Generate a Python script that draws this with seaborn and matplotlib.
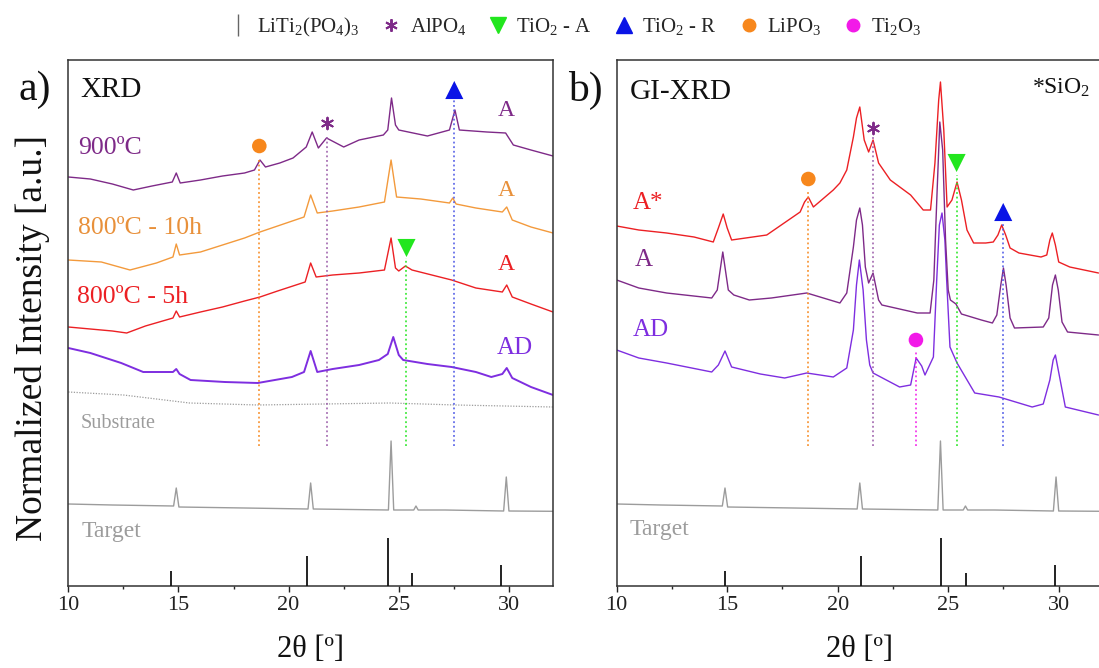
import matplotlib
matplotlib.use("Agg")
import matplotlib.pyplot as plt
from matplotlib.lines import Line2D
from matplotlib.ticker import MultipleLocator
import seaborn as sns

# ---------------- data: 2theta positions and normalized (offset) intensities ----------------
# Panel a) conventional XRD
xrd_900_2theta = [10.0, 11.0, 12.0, 12.95, 13.8, 14.72, 14.9, 15.08, 16.0, 17.0, 18.0, 18.45, 18.7, 18.95,
                  19.6, 20.2, 20.8, 21.07, 21.35, 21.72, 22.5, 23.2, 24.3, 24.5, 24.67, 24.85, 25.0, 26.3,
                  27.3, 27.55, 27.75, 29.0, 29.85, 30.2, 31.0, 32.0]
xrd_900_int = [403, 401, 396, 390, 394, 398, 407, 397, 400, 404, 407, 410, 420, 413,
               417, 422, 433, 448, 432, 442, 433, 440, 445, 450, 482, 455, 450, 444,
               450, 470, 450, 448, 447, 435, 430, 424]

xrd_800_10h_2theta = [10.0, 11.5, 12.8, 14.0, 14.75, 14.9, 15.05, 16.0, 17.0, 18.0, 18.7, 19.5, 20.7, 21.0,
                      21.3, 22.0, 23.2, 24.35, 24.65, 24.9, 26.0, 27.3, 27.45, 27.6, 28.5, 29.7, 29.9,
                      30.15, 31.0, 32.0]
xrd_800_10h_int = [320, 318, 310, 317, 323, 336, 325, 328, 335, 342, 348, 354, 363, 385,
                   367, 369, 373, 378, 420, 383, 381, 377, 382, 376, 372, 368, 373,
                   360, 353, 347]

xrd_800_5h_2theta = [10.0, 11.0, 12.0, 12.65, 13.5, 14.75, 14.9, 15.05, 16.0, 17.0, 18.0, 18.7, 19.5, 20.75,
                     21.0, 21.25, 22.0, 23.2, 24.35, 24.65, 24.85, 25.0, 25.3, 25.6, 26.5, 27.4, 28.5,
                     29.7, 29.9, 30.15, 31.0, 32.0]
xrd_800_5h_int = [253, 251, 249, 247, 254, 262, 269, 263, 268, 273, 279, 283, 289, 298,
                  317, 303, 305, 307, 310, 342, 312, 309, 314, 310, 305, 300, 292,
                  288, 295, 283, 276, 268]

xrd_ad_2theta = [10.0, 11.0, 12.4, 13.4, 14.75, 14.9, 15.05, 15.55, 17.1, 18.6, 20.15, 20.7, 21.0, 21.3,
                 22.0, 23.2, 24.1, 24.5, 24.75, 25.0, 25.2, 26.3, 27.4, 28.5, 29.2, 29.7, 29.9, 30.15,
                 31.0, 32.0]
xrd_ad_int = [232, 227, 217, 208, 208, 211, 206, 200, 198, 197, 203, 208, 229, 208,
              211, 215, 220, 226, 243, 225, 220, 216, 213, 208, 203, 206, 212, 202,
              193, 185]

substrate_2theta = [10.0, 12.5, 15.5, 18.6, 21.6, 24.6, 27.6, 32.0]
substrate_int = [188, 185, 177, 175, 176, 177, 175, 173]

# Target pattern (same measurement shown in both panels)
target_2theta = [10.0, 12.0, 14.78, 14.9, 15.02, 18.0, 20.88, 21.0, 21.12, 24.53, 24.65, 24.77,
                 25.68, 25.78, 25.88, 27.1, 29.76, 29.88, 30.0, 32.0]
target_int = [76, 75, 74, 92, 73, 72, 71, 97, 71, 70, 139, 70,
              70, 74, 70, 70, 69, 103, 69, 68.7]

# LiTi2(PO4)3 reference reflections
ref_2theta_a = [14.65, 20.83, 24.49, 25.61, 29.66]
ref_2theta_b = [14.91, 21.05, 24.69, 25.81, 29.83]
ref_top = [9, 24, 42.5, 7, 15.5]

# Panel b) grazing-incidence XRD
gi_astar_2theta = [10.0, 11.0, 12.26, 13.5, 14.37, 14.6, 14.82, 15.0, 15.2, 16.79, 18.3, 18.5, 18.67, 18.9,
                   19.8, 20.1, 20.41, 20.71, 20.85, 21.0, 21.2, 21.4, 21.6, 21.85, 22.38, 23.3, 23.87,
                   24.2, 24.4, 24.57, 24.65, 24.8, 24.95, 25.17, 25.4, 25.6, 25.85, 26.15, 26.7, 27.04,
                   27.25, 27.42, 27.6, 27.8, 28.2, 29.2, 29.46, 29.6, 29.71, 29.85, 30.0, 30.5, 31.8]
gi_astar_int = [354, 350, 347, 343, 338, 352, 366, 352, 340, 345, 368, 378, 383, 373,
                390, 397, 410, 443, 462, 473, 440, 428, 440, 417, 400, 385, 370,
                370, 417, 480, 498, 450, 373, 380, 398, 380, 350, 337, 337, 338,
                345, 355, 345, 332, 327, 323, 325, 340, 347, 335, 318, 313, 307]

gi_a_2theta = [10.0, 11.0, 12.26, 14.3, 14.55, 14.8, 15.05, 15.3, 16.0, 17.0, 18.6, 20.1, 20.41, 20.71,
               20.85, 21.0, 21.12, 21.25, 21.4, 21.6, 21.85, 22.0, 23.0, 23.6, 24.18, 24.35, 24.5,
               24.62, 24.75, 24.88, 25.0, 25.1, 25.35, 25.6, 26.5, 27.0, 27.2, 27.38, 27.5, 27.62,
               27.8, 28.0, 29.3, 29.55, 29.72, 29.85, 29.98, 30.15, 30.4, 31.8]
gi_a_int = [300, 292, 287, 282, 290, 328, 290, 285, 280, 282, 287, 277, 287, 333,
            360, 372, 355, 313, 297, 307, 280, 275, 270, 267, 267, 300, 390,
            458, 430, 340, 290, 280, 276, 266, 260, 257, 265, 295, 312, 295,
            262, 252, 253, 262, 295, 305, 290, 258, 248, 245]

gi_ad_2theta = [10.0, 11.0, 12.26, 14.3, 14.6, 14.9, 15.2, 16.5, 17.6, 18.6, 19.8, 20.41, 20.71, 20.85,
                20.98, 21.15, 21.3, 21.45, 21.6, 22.2, 22.8, 23.3, 23.55, 23.8, 23.95, 24.33, 24.48,
                24.6, 24.72, 24.85, 24.93, 25.08, 25.4, 26.2, 27.3, 28.8, 29.3, 29.6, 29.75, 29.85,
                29.98, 30.3, 31.8]
gi_ad_int = [230, 222, 217, 208, 215, 229, 213, 206, 202, 207, 203, 212, 250, 295,
             320, 290, 240, 215, 207, 200, 193, 195, 222, 214, 205, 223, 300,
             355, 367, 340, 300, 233, 217, 187, 183, 173, 176, 200, 220, 225,
             210, 173, 165]

# Phase markers: (2theta, marker height, top of guide line)
phase_a = {
    "LiPO3":    ([18.67], [434], [420]),
    "AlPO4":    ([21.72], [457], [443]),
    "TiO2-A":   ([25.35], [332], [322]),
    "TiO2-R":   ([27.52], [490], [480]),
}
phase_b = {
    "LiPO3":    ([18.67], [401], [390]),
    "AlPO4":    ([21.61], [452], [443]),
    "Ti2O3":    ([23.54], [240], [228]),
    "TiO2-A":   ([25.38], [417], [405]),
    "TiO2-R":   ([27.49], [368], [357]),
}
guide_bottom = 134

# ---------------- styling ----------------
sns.set_style("ticks")
plt.rcParams["font.family"] = ["Liberation Serif", "DejaVu Serif"]
plt.rcParams["mathtext.fontset"] = "custom"
plt.rcParams["mathtext.rm"] = "Liberation Serif"
plt.rcParams["mathtext.it"] = "Liberation Serif:italic"
plt.rcParams["mathtext.bf"] = "Liberation Serif:bold"

C_900 = "#7E2A88"
C_10H = "#F39A3C"
C_5H = "#EC2024"
C_AD = "#7E2EE0"
C_GREY = "#9C9C9C"
C_ORANGE = "#F7871C"
C_GREEN = "#22E61E"
C_BLUE = "#0A14E6"
C_MAGENTA = "#F21AE8"
C_AST = "#7E2A88"

marker_style = {
    "LiPO3": dict(marker="o", color=C_ORANGE, s=110, line=C_ORANGE),
    "AlPO4": dict(marker=(6, 2, 0), color=C_AST, s=70, line="#9A5AA8"),
    "Ti2O3": dict(marker="o", color=C_MAGENTA, s=110, line=C_MAGENTA),
    "TiO2-A": dict(marker="v", color=C_GREEN, s=170, line=C_GREEN),
    "TiO2-R": dict(marker="^", color=C_BLUE, s=170, line="#4A55E6"),
}

fig = plt.figure(figsize=(10.99, 6.68), dpi=100)
ax_a = fig.add_axes([68.3 / 1099, 1 - 585.7 / 668, 484.7 / 1099, 525.7 / 668])
ax_b = fig.add_axes([616.7 / 1099, 1 - 585.7 / 668, 486.2 / 1099, 525.7 / 668])


def trace(ax, x, y, color, lw=0.9, ls="-"):
    sns.lineplot(x=x, y=y, ax=ax, color=color, lw=lw, ls=ls, sort=False, estimator=None)


def phases(ax, table):
    for key, (xs, ys, tops) in table.items():
        st = marker_style[key]
        ax.vlines(xs, guide_bottom, tops, colors=st["line"], linestyles=(0, (1.2, 1.8)), lw=1.1, zorder=2)
        kw = dict(edgecolor=st["color"], linewidth=1.4) if key == "AlPO4" else dict(edgecolor="none")
        sns.scatterplot(x=xs, y=ys, ax=ax, marker=st["marker"], color=st["color"], s=st["s"],
                        zorder=5, **kw)


def frame(ax):
    ax.set_xlim(10, 32)
    ax.set_ylim(-5.7, 520)
    ax.xaxis.set_major_locator(MultipleLocator(5))
    ax.xaxis.set_minor_locator(MultipleLocator(2.5))
    ax.set_yticks([])
    ax.tick_params(axis="x", which="major", direction="out", length=4.5, width=1.0,
                   labelsize=16, colors="#222222", pad=3)
    ax.tick_params(axis="x", which="minor", direction="out", length=2.5, width=1.0)
    for sp in ax.spines.values():
        sp.set_visible(True)
        sp.set_color("#333333")
        sp.set_linewidth(1.1)
    ax.set_xlabel("2θ [º]", fontsize=22, labelpad=14, color="#111111")
    ax.set_ylabel("")


# ---------------- panel a ----------------
trace(ax_a, target_2theta, target_int, C_GREY, lw=1.0)
trace(ax_a, substrate_2theta, substrate_int, C_GREY, lw=0.9, ls=(0, (1, 1.2)))
trace(ax_a, xrd_ad_2theta, xrd_ad_int, C_AD, lw=1.4)
trace(ax_a, xrd_800_5h_2theta, xrd_800_5h_int, C_5H, lw=1.0)
trace(ax_a, xrd_800_10h_2theta, xrd_800_10h_int, C_10H, lw=1.0)
trace(ax_a, xrd_900_2theta, xrd_900_int, C_900, lw=1.0)
ax_a.vlines(ref_2theta_a, -5.7, ref_top, colors="#111111", lw=1.3, zorder=3)
phases(ax_a, phase_a)
frame(ax_a)

ax_a.text(10.53, 490, "XRD", fontsize=21, va="center", ha="left", color="#111111")
ax_a.text(10.44, 432, "900ºC", fontsize=18.5, va="center", color=C_900)
ax_a.text(10.44, 352, "800ºC - 10h", fontsize=18.5, va="center", color="#E8903A")
ax_a.text(10.4, 283, "800ºC - 5h", fontsize=18.5, va="center", color=C_5H)
ax_a.text(10.58, 157, "Substrate", fontsize=14.5, va="center", color=C_GREY)
ax_a.text(10.58, 48, "Target", fontsize=17, va="center", color=C_GREY)
ax_a.text(29.9, 470, "A", fontsize=17, ha="center", va="center", color=C_900)
ax_a.text(29.9, 390, "A", fontsize=17, ha="center", va="center", color="#E8903A")
ax_a.text(29.9, 315, "A", fontsize=17, ha="center", va="center", color=C_5H)
ax_a.text(30.27, 232, "AD", fontsize=18, ha="center", va="center", color=C_AD)

# ---------------- panel b ----------------
trace(ax_b, target_2theta, target_int, C_GREY, lw=1.0)
trace(ax_b, gi_ad_2theta, gi_ad_int, C_AD, lw=1.0)
trace(ax_b, gi_a_2theta, gi_a_int, C_900, lw=1.0)
trace(ax_b, gi_astar_2theta, gi_astar_int, C_5H, lw=1.0)
ax_b.vlines(ref_2theta_b, -5.7, ref_top, colors="#111111", lw=1.3, zorder=3)
phases(ax_b, phase_b)
frame(ax_b)

ax_b.text(10.6, 488, "GI-XRD", fontsize=21, va="center", ha="left", color="#111111")
ax_b.text(28.8, 492, r"*SiO$_2$", fontsize=17, va="center", ha="left", color="#111111")
ax_b.text(10.74, 377, "A*", fontsize=18, va="center", color=C_5H)
ax_b.text(10.83, 320, "A", fontsize=18, va="center", color=C_900)
ax_b.text(10.74, 250, "AD", fontsize=18, va="center", color=C_AD)
ax_b.text(10.57, 50, "Target", fontsize=17, va="center", color=C_GREY)

# ---------------- figure-level text ----------------
fig.text(35 / 1099, 1 - 90 / 668, "a)", fontsize=30, ha="center", va="center", color="#111111")
fig.text(585 / 1099, 1 - 90 / 668, "b)", fontsize=30, ha="center", va="center", color="#111111")
fig.text(33 / 1099, 1 - 338 / 668, "Normalized Intensity [a.u.]", fontsize=27, rotation=90,
         ha="center", va="center", color="#111111")

handles = [
    Line2D([], [], ls="None", marker="|", color="#666666", markersize=16, mew=1.0),
    Line2D([], [], ls="None", marker=(6, 2, 0), color=C_AST, markersize=9, mew=1.4),
    Line2D([], [], ls="None", marker="v", color=C_GREEN, markersize=12),
    Line2D([], [], ls="None", marker="^", color=C_BLUE, markersize=12),
    Line2D([], [], ls="None", marker="o", color=C_ORANGE, markersize=9),
    Line2D([], [], ls="None", marker="o", color=C_MAGENTA, markersize=9),
]
labels = [r"LiTi$_2$(PO$_4$)$_3$", r"AlPO$_4$", r"TiO$_2$ - A", r"TiO$_2$ - R",
          r"LiPO$_3$", r"Ti$_2$O$_3$"]
fig.legend(handles, labels, loc="center", bbox_to_anchor=(575 / 1099, 1 - 27 / 668), ncol=6,
           frameon=False, fontsize=15, handletextpad=0.4, columnspacing=1.0, handlelength=1.0,
           borderaxespad=0)

fig.savefig("out.png", dpi=100)
